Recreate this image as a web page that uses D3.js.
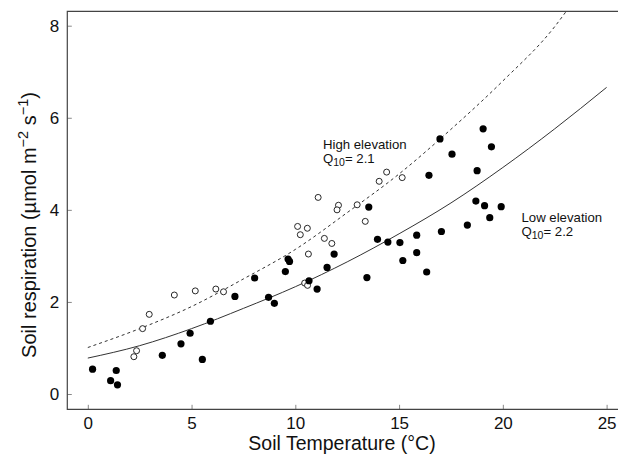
<!DOCTYPE html>
<html>
<head>
<meta charset="utf-8">
<script src="https://cdn.jsdelivr.net/npm/d3@7"></script>
<style>
  body { margin: 0; background: #fff; }
  svg { display: block; font-family: "Liberation Sans", Arial, sans-serif; }
</style>
</head>
<body>
<div id="chart"></div>
<script>
// low elevation plots (filled circles)
const lowTemp = [0.23, 1.10, 1.37, 1.43, 3.59, 4.49, 4.93, 5.52, 5.91, 7.09, 8.04, 8.71, 8.99, 9.52, 9.65, 9.72,
  10.66, 11.05, 11.53, 11.87, 13.45, 13.54, 13.96, 14.46, 15.04, 15.18, 15.85, 15.85, 16.33, 16.44, 17.04,
  16.97, 17.55, 19.05, 19.45, 18.76, 18.70, 19.12, 19.92, 19.37, 18.29];
const lowResp = [0.54, 0.29, 0.51, 0.20, 0.84, 1.09, 1.32, 0.75, 1.58, 2.12, 2.52, 2.10, 1.97, 2.66, 2.93, 2.88,
  2.46, 2.28, 2.75, 3.04, 2.53, 4.06, 3.36, 3.30, 3.29, 2.90, 3.45, 3.07, 2.65, 4.75, 3.53,
  5.54, 5.21, 5.76, 5.37, 4.85, 4.19, 4.09, 4.07, 3.83, 3.67];

// high elevation plots (open circles)
const highTemp = [2.22, 2.35, 2.64, 2.96, 4.17, 5.18, 6.17, 6.54, 10.11, 10.24, 10.58, 10.63, 11.10, 11.40,
  11.76, 12.08, 12.01, 12.98, 13.37, 14.04, 14.40, 15.15, 10.45, 10.59];
const highResp = [0.81, 0.94, 1.42, 1.73, 2.15, 2.24, 2.28, 2.22, 3.64, 3.46, 3.60, 3.04, 4.27, 3.38,
  3.27, 4.10, 4.00, 4.11, 3.75, 4.62, 4.82, 4.70, 2.41, 2.36];

// fitted curves
const lowFitTemp = [0, 2.5, 5, 7.5, 10, 12.5, 15, 17.5, 20, 22.5, 25];
const lowFitResp = [0.78, 1.05, 1.42, 1.86, 2.33, 2.87, 3.48, 4.15, 4.92, 5.76, 6.66];
const highFitTemp = [0, 2.5, 5, 7.5, 10, 12.5, 15, 17.5, 20, 22.5, 23.1];
const highFitResp = [1.01, 1.42, 1.90, 2.50, 3.14, 3.94, 4.78, 5.75, 6.80, 7.98, 8.34];

const xTicks = [0, 5, 10, 15, 20, 25];
const yTicks = [0, 2, 4, 6, 8];

function drawChart() {
    const width = 618, height = 462;
    // frame of the plot panel
    const left = 67.3, top = 11.3, bottom = 409.3;

    const svg = d3.select("#chart")
        .append("svg")
        .attr("width", width)
        .attr("height", height);

    const x = d3.scaleLinear().domain([0, 25]).range([87.8, 606.6]);
    const y = d3.scaleLinear().domain([0, 8]).range([394, 25.7]);
    const right = x(26.5);

    svg.append("clipPath").attr("id", "plotclip")
        .append("rect")
        .attr("x", left).attr("y", top)
        .attr("width", right - left).attr("height", bottom - top);

    // axes with inward ticks
    const yAxis = svg.append("g")
        .attr("transform", `translate(${left},0)`)
        .call(d3.axisLeft(y).tickValues(yTicks).tickSize(-4.5).tickPadding(8));
    const xAxis = svg.append("g")
        .attr("transform", `translate(0,${bottom})`)
        .call(d3.axisBottom(x).tickValues(xTicks).tickSize(-4.5).tickPadding(8));

    [xAxis, yAxis].forEach(g => {
        g.select(".domain").remove();
        g.selectAll(".tick line").attr("stroke", "#888");
        g.selectAll(".tick text")
            .attr("font-size", "17px")
            .attr("font-family", "Liberation Sans, Arial, sans-serif")
            .attr("fill", "#111");
    });

    // panel border (left, bottom, top)
    svg.append("path")
        .attr("d", `M${right},${top}H${left}V${bottom}H${right}`)
        .attr("fill", "none")
        .attr("stroke", "#444")
        .attr("stroke-width", 1.2);

    const line = d3.line()
        .x(d => x(d[0]))
        .y(d => y(d[1]))
        .curve(d3.curveMonotoneX);

    const plot = svg.append("g").attr("clip-path", "url(#plotclip)");

    plot.append("path")
        .datum(highFitTemp.map((t, i) => [t, highFitResp[i]]))
        .attr("d", line)
        .attr("fill", "none")
        .attr("stroke", "#333")
        .attr("stroke-width", 1)
        .attr("stroke-dasharray", "3,3");

    plot.append("path")
        .datum(lowFitTemp.map((t, i) => [t, lowFitResp[i]]))
        .attr("d", line)
        .attr("fill", "none")
        .attr("stroke", "#333")
        .attr("stroke-width", 1);

    plot.selectAll(".high")
        .data(highTemp.map((t, i) => [t, highResp[i]]))
        .enter()
        .append("circle")
        .attr("class", "high")
        .attr("cx", d => x(d[0]))
        .attr("cy", d => y(d[1]))
        .attr("r", 3)
        .attr("fill", "#fff")
        .attr("stroke", "#111")
        .attr("stroke-width", 0.9);

    plot.selectAll(".low")
        .data(lowTemp.map((t, i) => [t, lowResp[i]]))
        .enter()
        .append("circle")
        .attr("class", "low")
        .attr("cx", d => x(d[0]))
        .attr("cy", d => y(d[1]))
        .attr("r", 3.6)
        .attr("fill", "#000");

    // annotations
    function label(px, py, name, q) {
        const g = svg.append("g").attr("font-size", "13.2px").attr("fill", "#111");
        g.append("text").attr("x", px).attr("y", py).text(name);
        const t = g.append("text").attr("x", px).attr("y", py + 14);
        t.append("tspan").text("Q");
        t.append("tspan").attr("font-size", "10.5px").attr("dy", 3).text("10");
        t.append("tspan").attr("dy", -3).text("= " + q);
    }
    label(323, 149, "High elevation", "2.1");
    label(521.5, 222, "Low elevation", "2.2");

    // axis titles
    svg.append("text")
        .attr("x", 342)
        .attr("y", 450)
        .attr("text-anchor", "middle")
        .attr("font-size", "19.5px")
        .attr("fill", "#111")
        .text("Soil Temperature (°C)");

    const yt = svg.append("text")
        .attr("transform", "translate(36,225) rotate(-90)")
        .attr("text-anchor", "middle")
        .attr("font-size", "20px")
        .attr("fill", "#111");
    yt.append("tspan").text("Soil respiration (µmol m");
    yt.append("tspan").attr("font-size", "14.5px").attr("dy", -8).text("−2");
    yt.append("tspan").attr("dy", 8).text(" s");
    yt.append("tspan").attr("font-size", "14.5px").attr("dy", -8).text("−1");
    yt.append("tspan").attr("dy", 8).text(")");
}

document.addEventListener("DOMContentLoaded", drawChart);
</script>
</body>
</html>
